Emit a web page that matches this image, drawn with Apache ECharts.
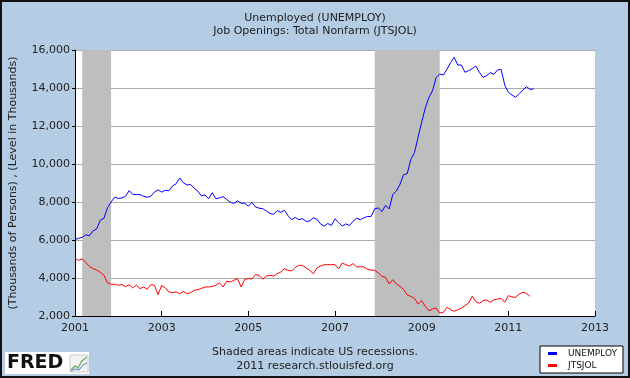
<!DOCTYPE html>
<html>
<head>
<meta charset="utf-8">
<title>Unemployed / Job Openings</title>
<script src="https://cdn.jsdelivr.net/npm/echarts@6/dist/echarts.min.js"></script>
<style>
  html, body { margin: 0; padding: 0; background: #b4cce4; }
  #main { width: 630px; height: 378px; }
</style>
</head>
<body>
<div id="main"></div>
<script>
  // monthly data, first value = Jan 2001
  var startYear = 2001;

  // Unemployed (UNEMPLOY), thousands of persons
  var unemployData = [
    6023, 6089, 6141, 6271, 6226, 6484, 6583, 7042, 7142, 7694, 8003, 8258,
    8182, 8215, 8304, 8599, 8399, 8393, 8390, 8304, 8251, 8307, 8520, 8640,
    8520, 8618, 8588, 8842, 8957, 9266, 9011, 8896, 8921, 8732, 8576, 8317,
    8370, 8167, 8491, 8170, 8212, 8286, 8136, 7990, 7927, 8061, 7932, 7934,
    7784, 7980, 7737, 7672, 7651, 7524, 7406, 7345, 7553, 7453, 7566, 7279,
    7064, 7184, 7072, 7120, 6980, 7001, 7175, 7091, 6847, 6727, 6872, 6762,
    7116, 6927, 6731, 6850, 6766, 6979, 7149, 7067, 7170, 7237, 7240, 7645,
    7685, 7497, 7822, 7637, 8395, 8575, 8937, 9438, 9494, 10240, 10600, 11400,
    12200, 12950, 13500, 13853, 14550, 14737, 14684, 14983, 15333, 15614, 15210, 15210,
    14825, 14912, 15018, 15158, 14825, 14562, 14650, 14807, 14720, 14948, 14983, 14158,
    13772, 13632, 13509, 13700, 13890, 14070, 13930, 13948
  ];

  // Job Openings: Total Nonfarm (JTSJOL), level in thousands
  var jtsjolData = [
    5050, 4930, 5010, 4810, 4600, 4500, 4420, 4300, 4150, 3740, 3670, 3670,
    3620, 3660, 3540, 3640, 3480, 3630, 3440, 3527, 3404, 3650, 3614, 3123,
    3614, 3474, 3264, 3228, 3264, 3176, 3300, 3176, 3228, 3351, 3386, 3450,
    3527, 3527, 3560, 3614, 3750, 3527, 3825, 3790, 3880, 3965, 3527, 3930,
    3965, 3950, 4180, 4141, 3930, 4105, 4141, 4105, 4228, 4316, 4491, 4403,
    4368, 4560, 4667, 4667, 4526, 4403, 4228, 4526, 4631, 4702, 4702, 4702,
    4702, 4491, 4790, 4700, 4632, 4755, 4579, 4600, 4579, 4456, 4420, 4404,
    4263, 4088, 4035, 3685, 3912, 3685, 3562, 3400, 3106, 3036, 2930, 2632,
    2808, 2509, 2281, 2369, 2422, 2158, 2194, 2457, 2334, 2246, 2334, 2404,
    2544, 2685, 3036, 2755, 2667, 2808, 2843, 2720, 2850, 2895, 2930, 2720,
    3071, 3000, 2983, 3158, 3246, 3193, 3036
  ];

  // US recessions (start month, end month)
  var recessions = [['2001-03', '2001-11'], ['2007-12', '2009-06']];

  var yearTicks = [2001, 2003, 2005, 2007, 2009, 2011, 2013];

  var font = 'DejaVu Sans, Verdana, sans-serif';

  // month string -> decimal year
  function toYear(s) {
    var p = s.split('-');
    return Number(p[0]) + (Number(p[1]) - 1) / 12;
  }

  function toPairs(arr) {
    return arr.map(function (v, i) { return [startYear + i / 12, v]; });
  }

  var myChart = echarts.init(document.getElementById('main'));

  var option = {
    backgroundColor: '#b4cce4',
    animation: false,
    title: {
      text: 'Unemployed (UNEMPLOY)\nJob Openings: Total Nonfarm (JTSJOL)',
      left: 'center',
      top: 7,
      textStyle: { fontFamily: font, fontSize: 11, fontWeight: 'normal', color: '#222', lineHeight: 13 }
    },
    grid: {
      left: 74, top: 50, right: 35, bottom: 62,
      show: true,
      backgroundColor: '#fff',
      borderWidth: 0
    },
    legend: {
      left: 540, top: 346,
      orient: 'vertical',
      backgroundColor: '#fff',
      borderColor: '#000',
      borderWidth: 1,
      borderRadius: 0,
      padding: [3, 6, 3, 8],
      itemGap: 3,
      itemWidth: 9,
      itemHeight: 3,
      icon: 'rect',
      textStyle: { fontFamily: font, fontSize: 9, color: '#111', padding: [0, 0, 0, 6] },
      data: ['UNEMPLOY', 'JTSJOL']
    },
    xAxis: {
      type: 'value',
      min: yearTicks[0],
      max: yearTicks[yearTicks.length - 1],
      interval: 2,
      axisLine: { show: true, lineStyle: { color: '#000', width: 1 } },
      axisTick: { show: true, inside: true, length: 5, lineStyle: { color: '#000' } },
      axisLabel: { fontFamily: font, fontSize: 11, color: '#222', margin: 7, formatter: function (v) { return String(v); } },
      splitLine: { show: false }
    },
    yAxis: {
      type: 'value',
      min: 2000,
      max: 16000,
      interval: 2000,
      name: '(Thousands of Persons) , (Level in Thousands)',
      nameLocation: 'middle',
      nameGap: 56,
      nameTextStyle: { fontFamily: font, fontSize: 11, color: '#222' },
      axisLine: { show: true, lineStyle: { color: '#000', width: 1 } },
      axisTick: { show: true, length: 3, lineStyle: { color: '#000' } },
      axisLabel: { fontFamily: font, fontSize: 11, color: '#222', margin: 5, formatter: function (v) { return v.toLocaleString('en-US'); } },
      splitLine: { show: true, lineStyle: { color: '#aaa', width: 1 } }
    },
    series: [
      {
        name: 'UNEMPLOY',
        type: 'line',
        showSymbol: false,
        color: '#0000ff',
        lineStyle: { width: 1 },
        data: toPairs(unemployData),
        // 衰退期阴影
        markArea: {
          silent: true,
          itemStyle: { color: '#bebebe' },
          data: recessions.map(function (r) {
            return [{ xAxis: toYear(r[0]) }, { xAxis: toYear(r[1]) }];
          })
        }
      },
      {
        name: 'JTSJOL',
        type: 'line',
        showSymbol: false,
        color: '#ff0000',
        lineStyle: { width: 1 },
        data: toPairs(jtsjolData)
      }
    ],
    graphic: [
      // outer frame
      { type: 'rect', shape: { x: 1, y: 1, width: 628, height: 376 }, style: { fill: null, stroke: '#111', lineWidth: 2 }, silent: true },
      // footer text
      { type: 'text', left: 'center', top: 347, style: { text: 'Shaded areas indicate US recessions.', font: '11px ' + font, fill: '#222' } },
      { type: 'text', left: 'center', top: 361, style: { text: '2011 research.stlouisfed.org', font: '11px ' + font, fill: '#222' } },
      // FRED logo
      { type: 'rect', shape: { x: 5, y: 352, width: 84, height: 22 }, style: { fill: '#fff' } },
      { type: 'text', x: 7, y: 354, style: { text: 'FRED', font: 'bold 19px ' + font, fill: '#111' } },
      { type: 'rect', shape: { x: 70, y: 355, width: 18, height: 17 }, style: { fill: '#f2f2f2', stroke: '#ccc', lineWidth: 1 } },
      { type: 'polyline', shape: { points: [[71, 370], [75, 366], [78, 368], [82, 361], [87, 357]] }, style: { stroke: '#6fb36f', lineWidth: 1.5, fill: null } },
      { type: 'polyline', shape: { points: [[71, 371], [75, 369], [79, 370], [83, 365], [87, 363]] }, style: { stroke: '#5b7fc0', lineWidth: 1, fill: null } }
    ]
  };

  myChart.setOption(option);
  window.addEventListener('resize', function () { myChart.resize(); });
</script>
</body>
</html>
